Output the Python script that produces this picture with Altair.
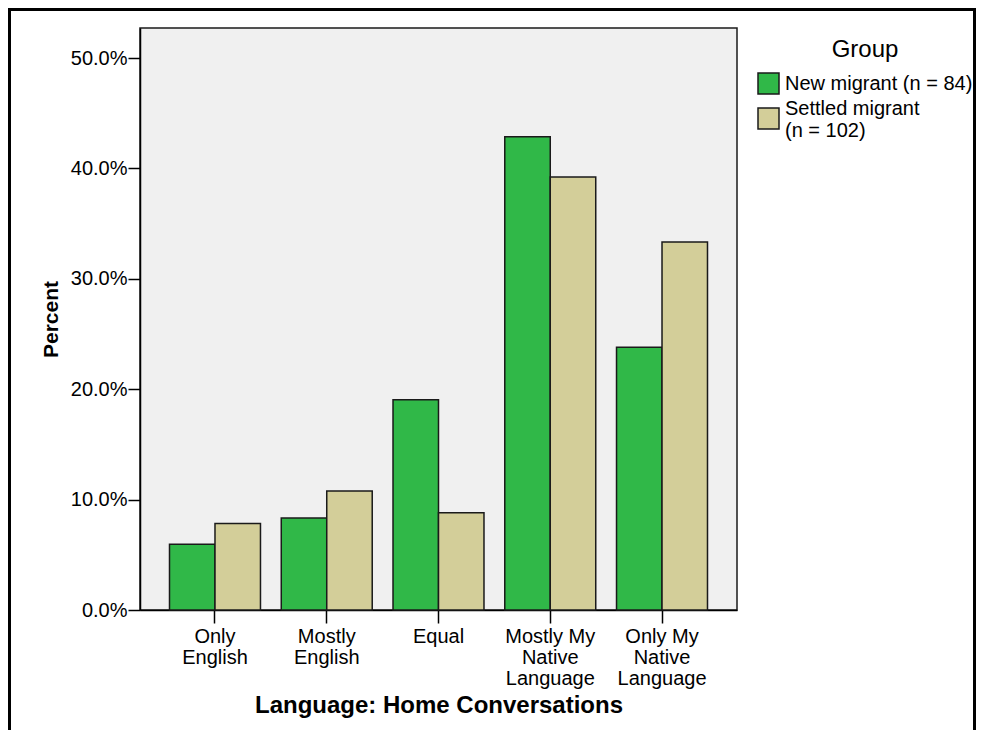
import altair as alt
import pandas as pd

categories = ["Only|English", "Mostly|English", "Equal", "Mostly My|Native|Language", "Only My|Native|Language"]
groups = ["New migrant (n = 84)", "Settled migrant|(n = 102)"]
new_migrant = [5.95, 8.33, 19.05, 42.86, 23.81]
settled_migrant = [7.84, 10.78, 8.82, 39.22, 33.33]
colors = ["#30b848", "#d3ce99"]
y_ticks = [0.0, 0.1, 0.2, 0.3, 0.4, 0.5]

rows = []
for c, a, b in zip(categories, new_migrant, settled_migrant):
    rows.append({"cat": c, "group": groups[0], "pct": a / 100})
    rows.append({"cat": c, "group": groups[1], "pct": b / 100})
df = pd.DataFrame(rows)

FONT = "Liberation Sans"

bars = alt.Chart(df).mark_bar(stroke="#1a1a1a", strokeWidth=1.5).encode(
    x=alt.X("cat:N", sort=categories,
            scale=alt.Scale(paddingInner=0.186, paddingOuter=0.264),
            axis=alt.Axis(title="Language: Home Conversations",
                          labelExpr="split(datum.label, '|')",
                          labelAngle=0, labelFontSize=20, labelLineHeight=21,
                          labelFont=FONT, labelColor="#000", labelPadding=3,
                          tickSize=13, tickColor="#000", tickWidth=1.5,
                          domainColor="#000", domainWidth=1.5,
                          titleFontSize=24, titleFont=FONT, titleFontWeight="bold",
                          titleColor="#000", titlePadding=5)),
    xOffset=alt.XOffset("group:N", sort=groups, scale=alt.Scale(paddingInner=0, paddingOuter=0)),
    y=alt.Y("pct:Q", scale=alt.Scale(domain=[0, 0.5272], nice=False, zero=True),
            axis=alt.Axis(title="Percent", values=y_ticks, format=".1%", grid=False,
                          labelFontSize=20, labelFont=FONT, labelColor="#000", labelPadding=1,
                          tickSize=12, tickColor="#000", tickWidth=1.5,
                          domainColor="#000", domainWidth=1.5,
                          titleFontSize=21, titleFont=FONT, titleFontWeight="bold",
                          titleColor="#000", titlePadding=9)),
    color=alt.Color("group:N", sort=groups,
                    scale=alt.Scale(domain=groups, range=colors),
                    legend=alt.Legend(title="Group", orient="none", legendX=617, legendY=10,
                                      titleFontSize=24, titleFont=FONT, titleFontWeight="normal",
                                      titleColor="#000", titleAnchor="middle", titlePadding=10,
                                      labelExpr="split(datum.label, '|')",
                                      labelBaseline=alt.ExprRef("indexof(datum.label, '|') >= 0 ? 'bottom' : 'middle'"),
                                      labelFontSize=20, labelFont=FONT, labelColor="#000",
                                      labelOffset=5, symbolType="square", symbolSize=441,
                                      symbolStrokeColor="#1a1a1a", symbolStrokeWidth=1.5,
                                      symbolOpacity=1, rowPadding=1, labelLimit=400)),
)

frame = alt.Chart(alt.Data(values=[{"a": 1}])).mark_rect(
    filled=False, stroke="#000", strokeWidth=3
).encode(
    x=alt.value(-130.5), x2=alt.value(834.5), y=alt.value(-18.5), y2=alt.value(715)
)

chart = alt.layer(frame, bars).properties(
    width=597, height=582,
    autosize=alt.AutoSizeParams(type="none"),
    padding={"left": 132, "top": 20, "right": 239, "bottom": 120},
    background="white",
).configure_view(
    fill="#f0f0f0", stroke="#1a1a1a", strokeWidth=1.5
)

chart.save("out.html", embed_options={"renderer": "svg", "actions": False})
